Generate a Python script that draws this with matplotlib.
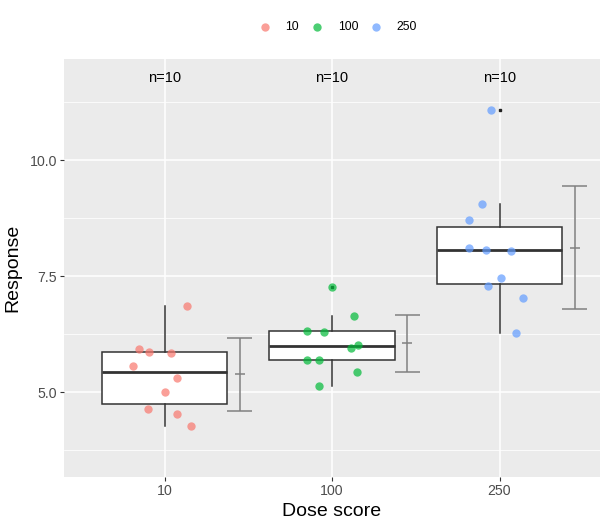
import numpy as np
import matplotlib
matplotlib.use('Agg')
from matplotlib import pyplot as plt
from matplotlib.ticker import MultipleLocator

plt.rcParams['font.family'] = ['Liberation Sans', 'DejaVu Sans']

# dane
doses = ['10', '100', '250']
colors = ['#F8766D', '#00BA38', '#619CFF']
resp_10 = [6.86, 5.93, 5.87, 5.85, 5.57, 5.31, 5.01, 4.64, 4.53, 4.27]
resp_100 = [7.26, 6.64, 6.32, 6.30, 6.02, 5.95, 5.70, 5.70, 5.44, 5.14]
resp_250 = [11.08, 9.06, 8.71, 8.11, 8.07, 8.04, 7.46, 7.29, 7.03, 6.28]
jitter_10 = [0.135, -0.15, -0.09, 0.04, -0.19, 0.075, 0.0, -0.10, 0.075, 0.16]
jitter_100 = [0.0, 0.13, -0.15, -0.045, 0.155, 0.115, -0.15, -0.075, 0.15, -0.075]
jitter_250 = [-0.05, -0.105, -0.185, -0.185, -0.08, 0.07, 0.01, -0.07, 0.14, 0.10]

groups = [resp_10, resp_100, resp_250]
jitters = [jitter_10, jitter_100, jitter_250]
pos = np.arange(1, len(doses) + 1)

fig = plt.figure(figsize=(6.07, 5.29), dpi=100)
ax = fig.add_axes([64/607, 1 - 476.7/529, 536/607, (476.7 - 59)/529])
ax.set_facecolor('#EBEBEB')
for s in ax.spines.values():
    s.set_visible(False)

ax.set_xlim(0.4, 3.6)
ax.set_ylim(3.175, 12.18)
ax.yaxis.set_major_locator(MultipleLocator(2.5))
ax.yaxis.set_minor_locator(MultipleLocator(1.25))
ax.grid(True, which='major', color='white', lw=1.1)
ax.grid(True, which='minor', axis='y', color='white', lw=0.55)
ax.set_axisbelow(True)

# boxploty
ax.boxplot(groups, positions=pos, widths=0.75, patch_artist=True,
           showcaps=False, zorder=2,
           boxprops=dict(facecolor='white', edgecolor='#333333', lw=1.1),
           whiskerprops=dict(color='#333333', lw=1.1),
           medianprops=dict(color='#333333', lw=2.0),
           flierprops=dict(marker='s', markersize=1.6, markerfacecolor='#222222',
                           markeredgecolor='#222222'))

# srednia +- odchylenie
for i, g in enumerate(groups):
    m = np.mean(g)
    sd = np.std(g, ddof=1)
    xe = pos[i] + 0.45
    ax.vlines(xe, m - sd, m + sd, color='#808080', lw=1.1, zorder=2)
    ax.hlines([m - sd, m + sd], xe - 0.075, xe + 0.075, color='#808080', lw=1.1, zorder=2)
    ax.hlines(m, xe - 0.03, xe + 0.03, color='#808080', lw=1.1, zorder=2)

# punkty
for i, g in enumerate(groups):
    ax.scatter(pos[i] + np.array(jitters[i]), g, s=36, color=colors[i],
               alpha=0.7, linewidths=0, zorder=3, label=doses[i])
    ax.text(pos[i], 11.77, 'n=%d' % len(g), ha='center', va='center', fontsize=10.5)

ax.set_xticks(pos)
ax.set_xticklabels(doses)
ax.set_yticks([5.0, 7.5, 10.0])
ax.set_yticklabels(['5.0', '7.5', '10.0'])
ax.tick_params(which='major', length=3, color='#333333', labelsize=10.2,
               labelcolor='#4D4D4D', pad=2)
ax.tick_params(which='minor', length=0)
ax.set_xlabel('Dose score', fontsize=14, labelpad=4)
ax.set_ylabel('Response', fontsize=14, labelpad=6)

h, l = ax.get_legend_handles_labels()
fig.legend(h, l, loc='center', bbox_to_anchor=(0.552, 1 - 27/529), ncol=3,
           frameon=False, fontsize=8.8, handletextpad=0.65, columnspacing=0.5,
           handlelength=2.0, markerscale=1.0)

fig.savefig('out.png', dpi=100)
